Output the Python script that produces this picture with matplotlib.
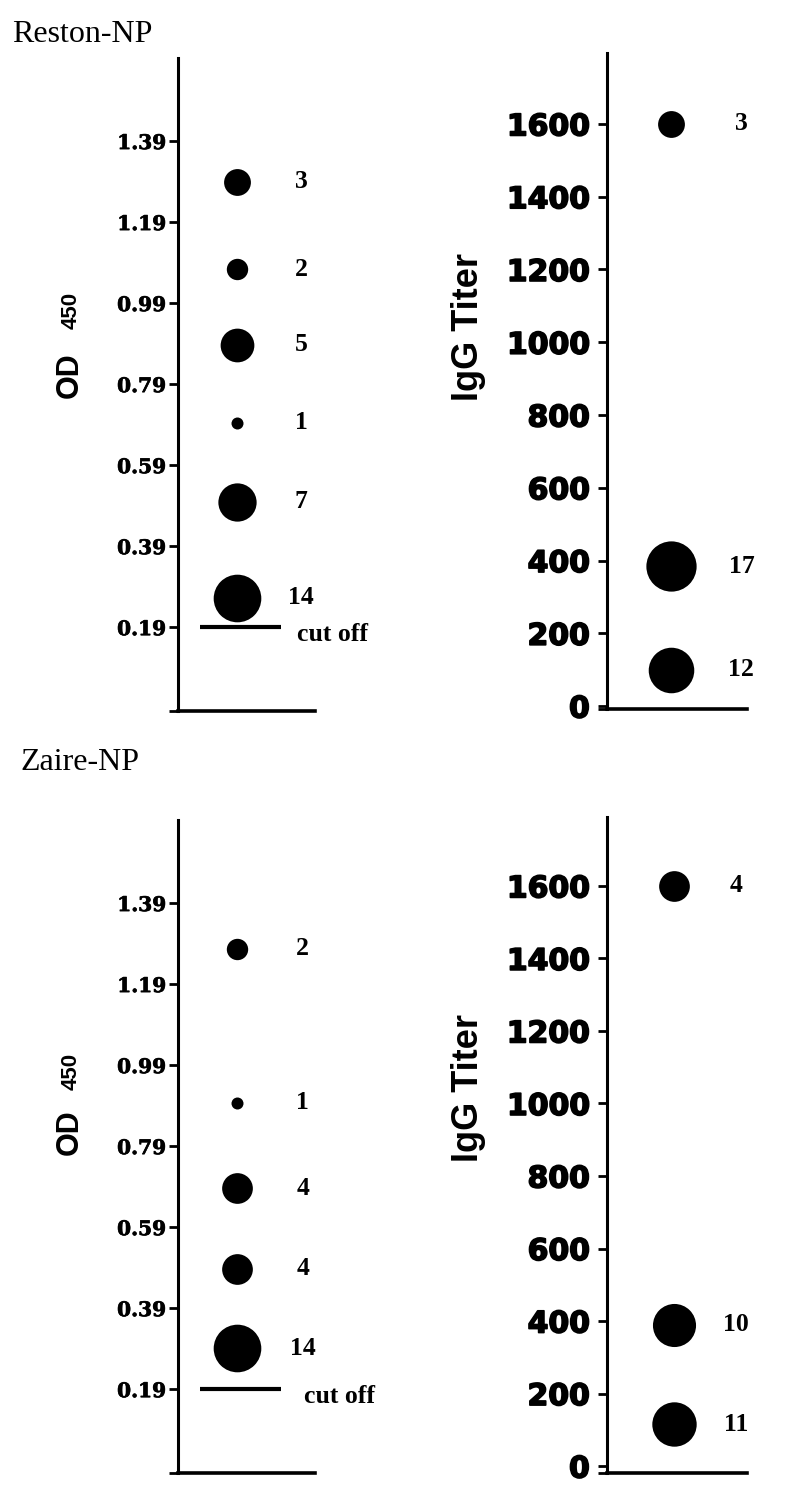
import numpy as np
import matplotlib
matplotlib.use("Agg")
import matplotlib.pyplot as plt
import matplotlib.patheffects as pe

# ---------------- data ----------------
reston_od_values = [1.29, 1.073, 0.887, 0.695, 0.499, 0.263]
reston_od_counts = [3, 2, 5, 1, 7, 14]
reston_igg_values = [1600, 385, 100]
reston_igg_counts = [3, 17, 12]

zaire_od_values = [1.277, 0.897, 0.686, 0.487, 0.291]
zaire_od_counts = [2, 1, 4, 4, 14]
zaire_igg_values = [1600, 390, 115]
zaire_igg_counts = [4, 10, 11]

od_ticks = [0.19, 0.39, 0.59, 0.79, 0.99, 1.19, 1.39]
od_tick_labels = ["0.19", "0.39", "0.59", "0.79", "0.99", "1.19", "1.39"]
igg_ticks = [0, 200, 400, 600, 800, 1000, 1200, 1400, 1600]
igg_tick_labels = ["0", "200", "400", "600", "800", "1000", "1200", "1400", "1600"]
cutoff_value = 0.19
panel_titles = ["Reston-NP", "Zaire-NP"]

# ---------------- layout ----------------
W, H = 806, 1500
fig = plt.figure(figsize=(W / 100, H / 100), dpi=100)
fig.patch.set_facecolor("white")

SERIF = "DejaVu Serif"
LABEL_SERIF = "Liberation Serif"
SANS = "Liberation Sans"
HEAVY = "DejaVu Sans"


def px_axes(l, r, t, b):
    return fig.add_axes([l / W, 1 - b / H, (r - l) / W, (b - t) / H])


def dot_diam_pt(n):
    # marker diameter grows with number of samples
    return (12 + 13.5 * np.log(n)) * 0.72


def style_axes(ax, ylim, ticks, labels, tickfont, tickfs, pad, stroke):
    ax.set_xlim(0, 1)
    ax.set_ylim(*ylim)
    for s in ("top", "right"):
        ax.spines[s].set_visible(False)
    ax.spines["left"].set_linewidth(2.2)
    ax.spines["bottom"].set_linewidth(2.6)
    ax.set_xticks([])
    ax.set_yticks(list(ticks) + [ylim[0]])
    ax.set_yticklabels(list(labels) + [""])
    ax.tick_params(axis="y", length=6.5, width=2.0, pad=pad)
    for t in ax.get_yticklabels():
        t.set_fontfamily(tickfont)
        t.set_fontweight("bold")
        t.set_fontsize(tickfs)
        if stroke:
            t.set_path_effects([pe.withStroke(linewidth=stroke, foreground="black")])
    ax.patch.set_visible(False)


def od_panel(ax, values, counts, ylim, x_dot, x_lab, x_cut):
    style_axes(ax, ylim, od_ticks, od_tick_labels, SERIF, 14.5, 2, 0.5)
    for v, n in zip(values, counts):
        ax.plot([x_dot], [v], "o", color="black", markersize=dot_diam_pt(n),
                markeredgewidth=0)
        ax.text(x_lab, v, str(n), ha="center", va="center",
                fontfamily=LABEL_SERIF, fontweight="bold", fontsize=18.5)
    ax.plot([0.16, 0.75], [cutoff_value, cutoff_value], color="black",
            linewidth=3, solid_capstyle="butt")
    ax.annotate("cut off", xy=(x_cut, cutoff_value), xytext=(0, -10),
                textcoords="offset points", ha="left", va="baseline",
                fontfamily=LABEL_SERIF, fontweight="bold", fontsize=18.5)


def igg_panel(ax, values, counts, ylim, x_dot, x_lab):
    style_axes(ax, ylim, igg_ticks, igg_tick_labels, HEAVY, 21.5, 6, 1.2)
    for v, n in zip(values, counts):
        ax.plot([x_dot], [v], "o", color="black", markersize=dot_diam_pt(n),
                markeredgewidth=0)
        ax.text(x_lab, v, str(n), ha="center", va="center",
                fontfamily=LABEL_SERIF, fontweight="bold", fontsize=18.5)


# Reston-NP
ax1 = px_axes(178, 315, 58, 711)
od_panel(ax1, reston_od_values, reston_od_counts, (-0.017, 1.595), 0.43, 0.898, 0.87)
ax2 = px_axes(607, 747, 53, 709)
igg_panel(ax2, reston_igg_values, reston_igg_counts, (-8, 1795), 0.46, 0.96)

# Zaire-NP
ax3 = px_axes(178, 315, 820, 1473)
od_panel(ax3, zaire_od_values, zaire_od_counts, (-0.017, 1.595), 0.43, 0.91, 0.92)
ax4 = px_axes(607, 747, 817, 1473)
igg_panel(ax4, zaire_igg_values, zaire_igg_counts, (-19, 1790), 0.48, 0.92)


def ftext(x, y, s, **kw):
    fig.text(x / W, 1 - y / H, s, **kw)


# panel titles
ftext(12, 42, panel_titles[0], ha="left", va="baseline",
      fontfamily=LABEL_SERIF, fontsize=23)
ftext(20, 770, panel_titles[1], ha="left", va="baseline",
      fontfamily=LABEL_SERIF, fontsize=23)

# y labels
for y_od, y_450 in ((375, 310), (1132, 1071)):
    ftext(70, y_od, "OD", rotation=90, ha="center", va="center",
          fontfamily=SANS, fontweight="bold", fontsize=22)
    ftext(71, y_450, "450", rotation=90, ha="center", va="center",
          fontfamily=SANS, fontweight="bold", fontsize=16)
for y_igg in (327, 1088):
    ftext(468, y_igg, "IgG Titer", rotation=90, ha="center", va="center",
          fontfamily=SANS, fontweight="bold", fontsize=26)

fig.savefig("out.png", dpi=100, facecolor="white")
